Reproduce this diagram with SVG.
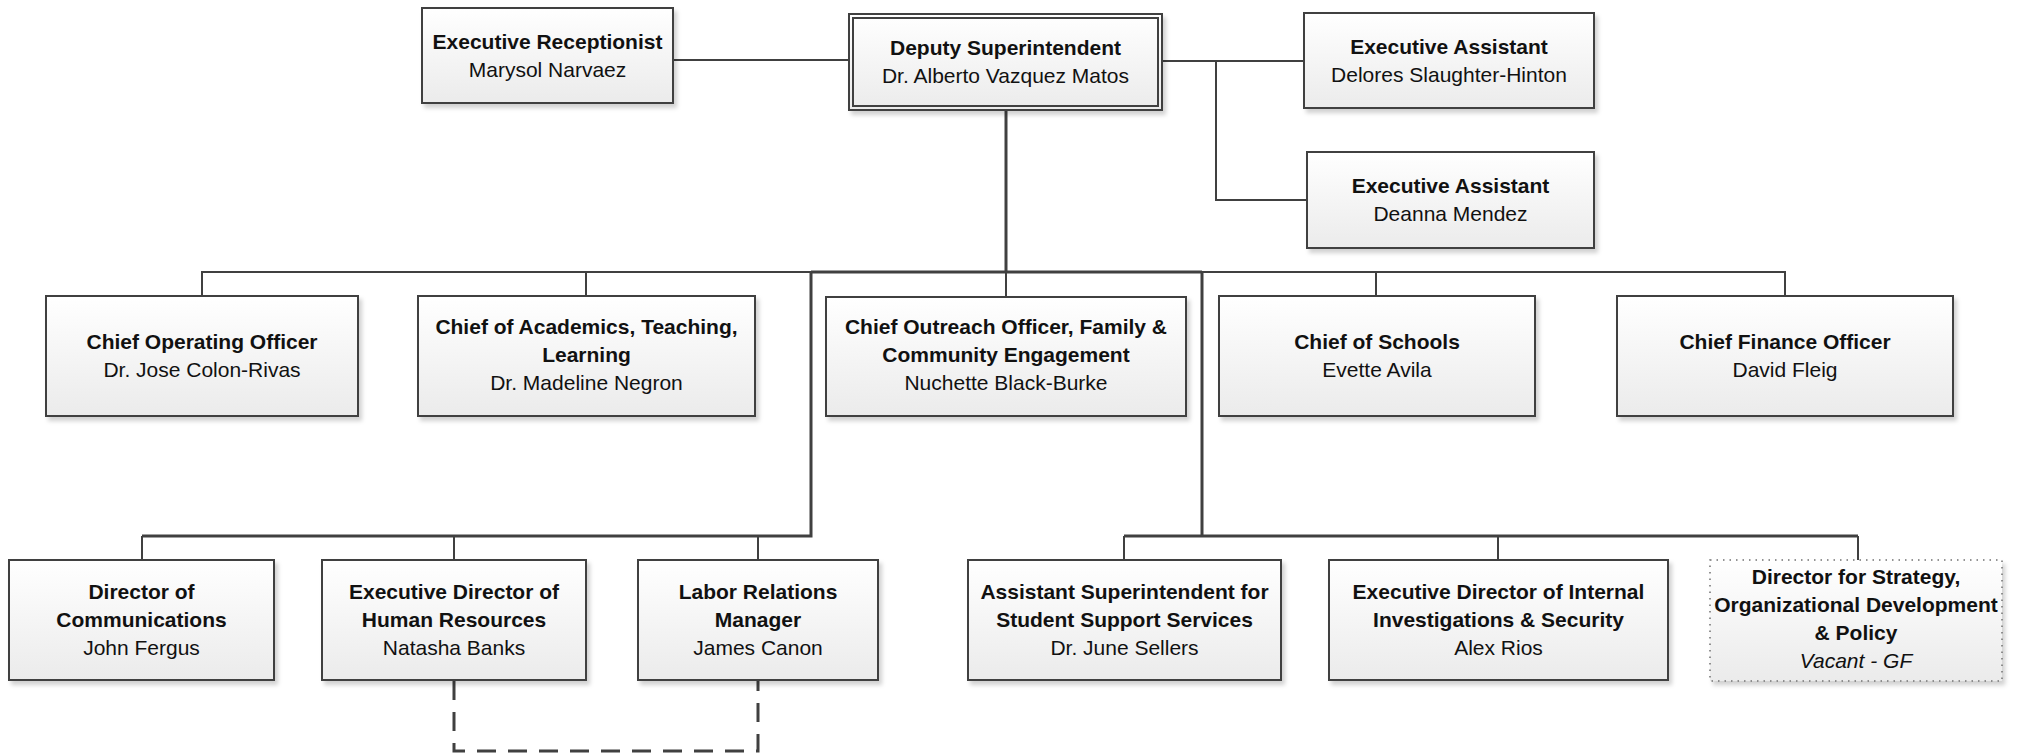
<svg xmlns="http://www.w3.org/2000/svg" width="2019" height="753" viewBox="0 0 2019 753">
<defs>
<linearGradient id="g" x1="0" y1="0" x2="0" y2="1">
<stop offset="0" stop-color="#ffffff"/>
<stop offset="1" stop-color="#ebebeb"/>
</linearGradient>
<filter id="sh" x="-5%" y="-5%" width="115%" height="125%">
<feDropShadow dx="3" dy="4" stdDeviation="2" flood-color="#000" flood-opacity="0.18"/>
</filter>
</defs>
<style>
.box{fill:url(#g);stroke:#404040;stroke-width:2;filter:url(#sh)}
.inner{fill:none;stroke:#404040;stroke-width:2}
.dot{fill:url(#g);stroke:#707070;stroke-width:1.5;stroke-dasharray:1.5 5;filter:url(#sh)}
text{font-family:"Liberation Sans",Arial,sans-serif;font-size:21px;fill:#111;text-anchor:middle}
.b{font-weight:bold}
.i{font-style:italic}
.c{fill:none;stroke:#404040;stroke-width:2}
.t{fill:none;stroke:#404040;stroke-width:3}
.d{fill:none;stroke:#404040;stroke-width:3;stroke-dasharray:19 12}
</style>
<rect width="2019" height="753" fill="#fff"/>
<g id="connectors">
<path class="c" d="M673 60 H849"/>
<path class="c" d="M1162 61 H1304 M1216 61 V200 H1307"/>
<path class="t" d="M1006 110 V272"/>
<path class="c" d="M202 296 V272 H1785 V296 M586 272 V296 M1006 272 V297 M1376 272 V296"/>
<path class="t" d="M811 272 H1202"/>
<path class="t" d="M811 272 V536 H142 M1202 272 V536 M1124 536 H1858"/>
<path class="c" d="M142 536 V560 M454 536 V560 M758 536 V560 M1124 536 V560 M1498 536 V560 M1858 536 V560"/>
<path class="d" d="M454 681 V751 H758 V681"/>
</g>
<g id="exec-receptionist">
<rect class="box" x="422" y="8" width="251" height="95"/>
<text class="b" x="547.5" y="49">Executive Receptionist</text>
<text x="547.5" y="77">Marysol Narvaez</text>
</g>
<g id="deputy-superintendent">
<rect class="box" x="849" y="14" width="313" height="96"/>
<rect class="inner" x="853" y="18" width="305" height="88"/>
<text class="b" x="1005.5" y="55">Deputy Superintendent</text>
<text x="1005.5" y="83">Dr. Alberto Vazquez Matos</text>
</g>
<g id="exec-assistant-1">
<rect class="box" x="1304" y="13" width="290" height="95"/>
<text class="b" x="1449" y="53.5">Executive Assistant</text>
<text x="1449" y="81.5">Delores Slaughter-Hinton</text>
</g>
<g id="exec-assistant-2">
<rect class="box" x="1307" y="152" width="287" height="96"/>
<text class="b" x="1450.5" y="193">Executive Assistant</text>
<text x="1450.5" y="221">Deanna Mendez</text>
</g>
<g id="coo">
<rect class="box" x="46" y="296" width="312" height="120"/>
<text class="b" x="202" y="349">Chief Operating Officer</text>
<text x="202" y="377">Dr. Jose Colon-Rivas</text>
</g>
<g id="chief-academics">
<rect class="box" x="418" y="296" width="337" height="120"/>
<text class="b" x="586.5" y="334">Chief of Academics, Teaching,</text>
<text class="b" x="586.5" y="362">Learning</text>
<text x="586.5" y="390">Dr. Madeline Negron</text>
</g>
<g id="chief-outreach">
<rect class="box" x="826" y="297" width="360" height="119"/>
<text class="b" x="1006" y="334">Chief Outreach Officer, Family &amp;</text>
<text class="b" x="1006" y="362">Community Engagement</text>
<text x="1006" y="390">Nuchette Black-Burke</text>
</g>
<g id="chief-schools">
<rect class="box" x="1219" y="296" width="316" height="120"/>
<text class="b" x="1377" y="349">Chief of Schools</text>
<text x="1377" y="377">Evette Avila</text>
</g>
<g id="cfo">
<rect class="box" x="1617" y="296" width="336" height="120"/>
<text class="b" x="1785" y="349">Chief Finance Officer</text>
<text x="1785" y="377">David Fleig</text>
</g>
<g id="dir-communications">
<rect class="box" x="9" y="560" width="265" height="120"/>
<text class="b" x="141.5" y="599">Director of</text>
<text class="b" x="141.5" y="627">Communications</text>
<text x="141.5" y="655">John Fergus</text>
</g>
<g id="exec-dir-hr">
<rect class="box" x="322" y="560" width="264" height="120"/>
<text class="b" x="454" y="599">Executive Director of</text>
<text class="b" x="454" y="627">Human Resources</text>
<text x="454" y="655">Natasha Banks</text>
</g>
<g id="labor-relations">
<rect class="box" x="638" y="560" width="240" height="120"/>
<text class="b" x="758" y="599">Labor Relations</text>
<text class="b" x="758" y="627">Manager</text>
<text x="758" y="655">James Canon</text>
</g>
<g id="asst-supt-student-support">
<rect class="box" x="968" y="560" width="313" height="120"/>
<text class="b" x="1124.5" y="599">Assistant Superintendent for</text>
<text class="b" x="1124.5" y="627">Student Support Services</text>
<text x="1124.5" y="655">Dr. June Sellers</text>
</g>
<g id="exec-dir-investigations">
<rect class="box" x="1329" y="560" width="339" height="120"/>
<text class="b" x="1498.5" y="599">Executive Director of Internal</text>
<text class="b" x="1498.5" y="627">Investigations &amp; Security</text>
<text x="1498.5" y="655">Alex Rios</text>
</g>
<g id="dir-strategy">
<rect class="dot" x="1710" y="560" width="292" height="121"/>
<text class="b" x="1856" y="584">Director for Strategy,</text>
<text class="b" x="1856" y="612">Organizational Development</text>
<text class="b" x="1856" y="640">&amp; Policy</text>
<text class="i" x="1856" y="668">Vacant - GF</text>
</g>
</svg>
